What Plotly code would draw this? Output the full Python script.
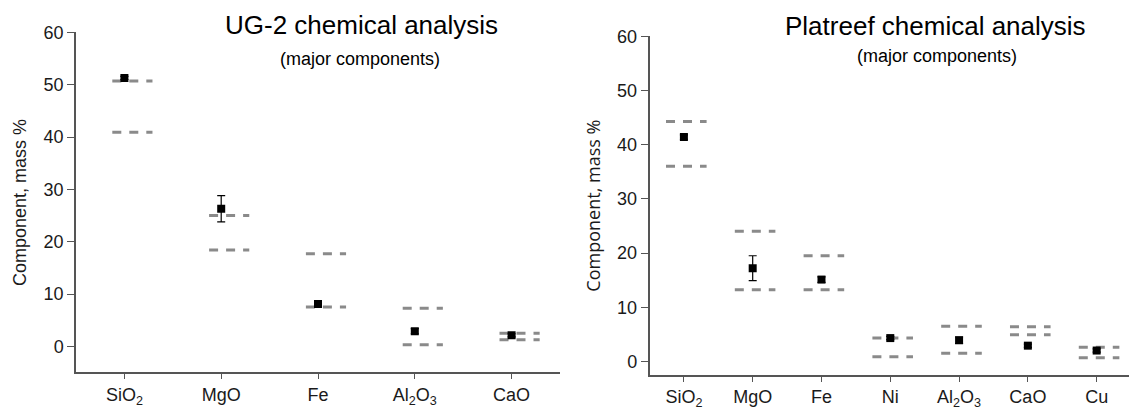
import plotly.graph_objects as go
from plotly.subplots import make_subplots

# ---------------- data ----------------
ug2_labels = ["SiO<sub>2</sub>", "MgO", "Fe", "Al<sub>2</sub>O<sub>3</sub>", "CaO"]
ug2_mean = [51.3, 26.3, 8.1, 2.9, 2.1]
ug2_err = [0.3, 2.5, 0.3, 0.5, 0.3]
ug2_upper = [50.7, 25.0, 17.7, 7.3, 2.5]
ug2_lower = [40.9, 18.4, 7.5, 0.3, 1.25]

plat_labels = ["SiO<sub>2</sub>", "MgO", "Fe", "Ni", "Al<sub>2</sub>O<sub>3</sub>", "CaO", "Cu"]
plat_mean = [41.4, 17.2, 15.1, 4.3, 3.9, 2.9, 2.0]
plat_err = [0.4, 2.3, 0.5, 0.3, 0.6, 0.3, 0.3]
plat_upper = [44.3, 24.0, 19.5, 4.3, 6.5, 6.4, 2.6]
plat_lower = [36.0, 13.2, 13.2, 0.85, 1.5, 4.9, 0.67]

y_ticks = [0, 10, 20, 30, 40, 50, 60]

FONT = "Liberation Sans, Arial, sans-serif"
TXT = "#1a1a1a"
AXC = "#555555"
DASHC = "#8a8a8a"


def limit_lines(upper, lower, a, b):
    xs, ys = [], []
    for i, (u, l) in enumerate(zip(upper, lower)):
        for v in (u, l):
            xs += [i + a, i + b, None]
            ys += [v, v, None]
    return xs, ys


fig = make_subplots(rows=1, cols=2)

panels = [
    (1, ug2_labels, ug2_mean, ug2_err, ug2_upper, ug2_lower, -0.125, 0.29),
    (2, plat_labels, plat_mean, plat_err, plat_upper, plat_lower, -0.26, 0.33),
]

for col, labels, mean, err, up, lo, a, b in panels:
    xs, ys = limit_lines(up, lo, a, b)
    fig.add_trace(go.Scatter(
        x=xs, y=ys, mode="lines",
        line=dict(color=DASHC, width=3, dash="9px,8px"),
        hoverinfo="skip", showlegend=False), row=1, col=col)
    fig.add_trace(go.Scatter(
        x=list(range(len(labels))), y=mean, mode="markers",
        marker=dict(symbol="square", size=8, color="black"),
        error_y=dict(type="data", array=err, color="black", thickness=1.2, width=4),
        showlegend=False), row=1, col=col)

axis_common = dict(showline=True, linecolor=AXC, linewidth=1.5, ticks="outside",
                   tickcolor=AXC, tickwidth=1.3, showgrid=False,
                   zeroline=False, tickfont=dict(family=FONT, size=18, color=TXT))

fig.update_layout(
    width=1129, height=412, margin=dict(l=0, r=0, t=0, b=0),
    plot_bgcolor="white", paper_bgcolor="white", showlegend=False,
    xaxis=dict(domain=[76 / 1129, 560 / 1129], range=[-0.5, 4.5], ticklen=5,
               tickmode="array", tickvals=list(range(len(ug2_labels))),
               ticktext=ug2_labels, **axis_common),
    yaxis=dict(domain=[1 - 371.5 / 412, 1 - 23 / 412], range=[-5, 60], ticklen=7,
               tickmode="array", tickvals=y_ticks,
               title=dict(text="Component, mass %", standoff=12,
                          font=dict(family=FONT, size=18, color=TXT)),
               **axis_common),
    xaxis2=dict(domain=[649.5 / 1129, 1.0], range=[-0.5, 6.47], ticklen=5,
                tickmode="array", tickvals=list(range(len(plat_labels))),
                ticktext=plat_labels, **axis_common),
    yaxis2=dict(domain=[1 - 374 / 412, 1 - 27 / 412], range=[-2.5, 60], ticklen=7,
                tickmode="array", tickvals=y_ticks,
                title=dict(text="Component, mass %", standoff=12,
                           font=dict(family="Open Sans, sans-serif", size=18, color=TXT)),
                **axis_common),
)

annos = [
    ("UG-2 chemical analysis", 361, 15, 26),
    ("(major components)", 360, 50, 18),
    ("Platreef chemical analysis", 935.5, 16, 26),
    ("(major components)", 936.5, 47, 18),
]
for text, xc, yc, size in annos:
    fig.add_annotation(text=text, x=xc / 1129, y=1 - yc / 412, xref="paper", yref="paper",
                       xanchor="center", yanchor="middle", showarrow=False,
                       font=dict(family=FONT, size=size, color="black"))

fig.write_html("out.html")
